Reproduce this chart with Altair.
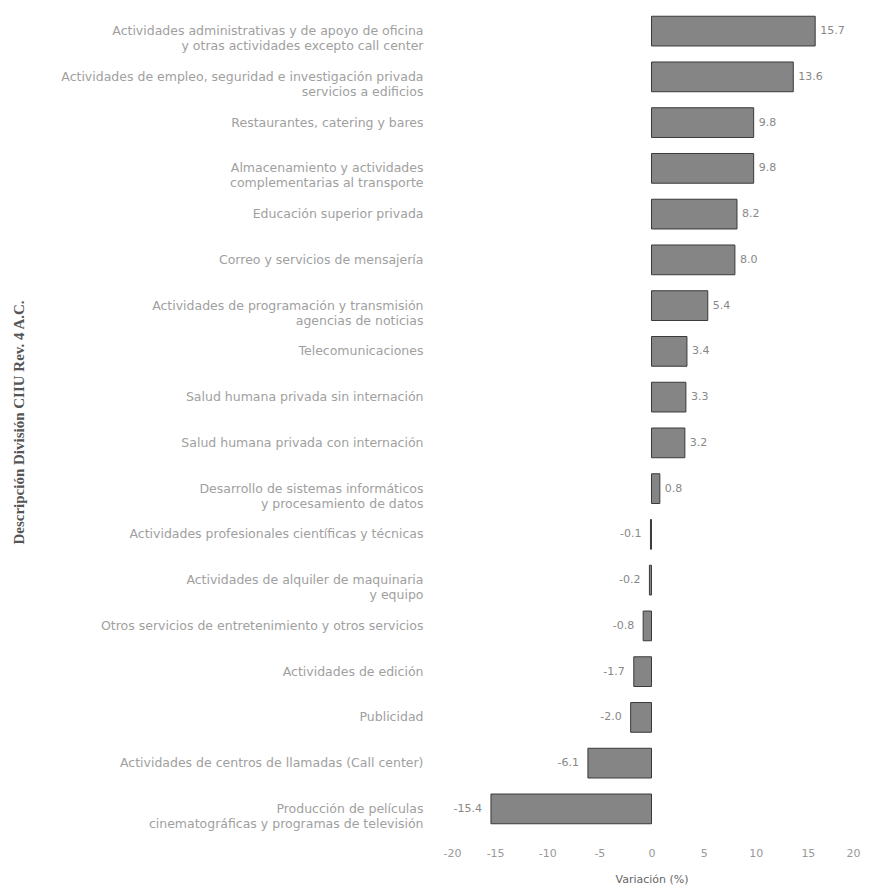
import altair as alt
import pandas as pd

categorias = [
    "Actividades administrativas y de apoyo de oficina|y otras actividades excepto call center",
    "Actividades de empleo, seguridad e investigación privada|servicios a edificios",
    "Restaurantes, catering y bares",
    "Almacenamiento y actividades|complementarias al transporte",
    "Educación superior privada",
    "Correo y servicios de mensajería",
    "Actividades de programación y transmisión|agencias de noticias",
    "Telecomunicaciones",
    "Salud humana privada sin internación",
    "Salud humana privada con internación",
    "Desarrollo de sistemas informáticos|y procesamiento de datos",
    "Actividades profesionales científicas y técnicas",
    "Actividades de alquiler de maquinaria|y equipo",
    "Otros servicios de entretenimiento y otros servicios",
    "Actividades de edición",
    "Publicidad",
    "Actividades de centros de llamadas (Call center)",
    "Producción de películas|cinematográficas y programas de televisión",
]
variacion = [15.7, 13.6, 9.8, 9.8, 8.2, 8.0, 5.4, 3.4, 3.3, 3.2, 0.8,
             -0.1, -0.2, -0.8, -1.7, -2.0, -6.1, -15.4]
ticks_x = [-20, -15, -10, -5, 0, 5, 10, 15, 20]

df = pd.DataFrame({"cat": categorias, "val": variacion})

y_enc = alt.Y(
    "cat:N",
    sort=categorias,
    scale=alt.Scale(paddingInner=0.35, paddingOuter=0.18),
    axis=alt.Axis(
        title="Descripción División CIIU Rev. 4 A.C.",
        labelExpr="split(datum.label, '|')",
        labelFont="DejaVu Sans",
        labelFontSize=12.5,
        labelColor="#a0a0a0",
        labelPadding=20,
        labelLimit=500,
        labelLineHeight=15,
        ticks=False,
        domain=False,
        titleFont="Liberation Serif",
        titleFontSize=15,
        titleFontWeight="bold",
        titleColor="#555",
        titleX=-425,
        titleY=414,
        titleAngle=-90,
        titleBaseline="middle",
    ),
)

x_enc = alt.X(
    "val:Q",
    scale=alt.Scale(domain=[-20, 20], nice=False),
    axis=alt.Axis(
        title="Variación (%)",
        values=ticks_x,
        labelExpr="toString(datum.value)",
        grid=False,
        ticks=False,
        domain=False,
        labelFont="DejaVu Sans",
        labelFontSize=11,
        labelColor="#999",
        labelPadding=15,
        titleFont="DejaVu Sans",
        titleFontSize=11,
        titleFontWeight="normal",
        titleColor="#666",
        titlePadding=15,
    ),
)

bars = alt.Chart(df).mark_bar(
    color="#858585", stroke="#3a3a3a", strokeWidth=1
).encode(x=x_enc, y=y_enc)

base_txt = alt.Chart(df).transform_calculate(
    lab="format(datum.val, '.1f')"
).transform_calculate(
    lab="replace(datum.lab, '\u2212', '-')"
)

pos = base_txt.transform_filter("datum.val >= 0").mark_text(
    align="left", dx=5, font="DejaVu Sans", fontSize=11, color="#888"
).encode(x="val:Q", y=alt.Y("cat:N", sort=categorias), text="lab:N")

neg = base_txt.transform_filter("datum.val < 0").mark_text(
    align="right", dx=-9, font="DejaVu Sans", fontSize=11, color="#888"
).encode(x="val:Q", y=alt.Y("cat:N", sort=categorias), text="lab:N")

chart = (bars + pos + neg).properties(
    width=417,
    height=824,
    autosize=alt.AutoSizeParams(type="none"),
    padding={"left": 435, "top": 0, "right": 4, "bottom": 58},
).configure(
    background="white",
    view=alt.ViewConfig(stroke=None, strokeWidth=0),
)

chart.save("out.html", embed_options={"renderer": "svg", "actions": False})
